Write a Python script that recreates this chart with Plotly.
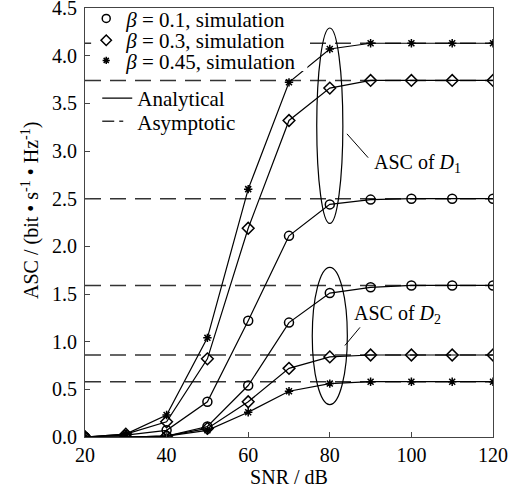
import plotly.graph_objects as go

snr = [20, 30, 40, 50, 60, 70, 80, 90, 100, 110, 120]

# ASC of D1
d1_b01 = [0.0, 0.02, 0.07, 0.37, 1.22, 2.11, 2.44, 2.49, 2.50, 2.50, 2.50]
d1_b03 = [0.0, 0.03, 0.16, 0.82, 2.19, 3.32, 3.66, 3.74, 3.74, 3.74, 3.74]
d1_b045 = [0.0, 0.03, 0.23, 1.04, 2.60, 3.72, 4.07, 4.13, 4.13, 4.13, 4.13]
# ASC of D2
d2_b01 = [0.0, 0.0, 0.01, 0.11, 0.54, 1.20, 1.51, 1.57, 1.59, 1.59, 1.59]
d2_b03 = [0.0, 0.0, 0.01, 0.09, 0.37, 0.72, 0.84, 0.86, 0.86, 0.86, 0.86]
d2_b045 = [0.0, 0.0, 0.01, 0.07, 0.26, 0.48, 0.56, 0.58, 0.58, 0.58, 0.58]

asymptotes = [4.13, 3.74, 2.50, 1.59, 0.86, 0.58]

beta_labels = ["0.1", "0.3", "0.45"]
symbols = ["circle-open", "diamond-open", "asterisk-open"]

FONT = "Liberation Serif"
fig = go.Figure()

# asymptotic dashed lines
for a in asymptotes:
    fig.add_trace(go.Scatter(x=[snr[0], snr[-1]], y=[a, a], mode="lines",
                             line=dict(color="#333", width=1.5, dash="16px,9px"),
                             showlegend=False, hoverinfo="skip"))

series = [(d1_b01, 0), (d1_b03, 1), (d1_b045, 2), (d2_b01, 0), (d2_b03, 1), (d2_b045, 2)]
for ys, k in series:
    sym = symbols[k]
    size = 9 if k < 2 else 7
    fig.add_trace(go.Scatter(x=snr, y=ys, mode="lines+markers",
                             line=dict(color="black", width=1.2),
                             marker=dict(symbol=sym, size=size, color="black",
                                         line=dict(color="black", width=1.5)),
                             showlegend=False))

# legend entries, one legend per row so rows can be placed exactly
legend_names = ["legend", "legend2", "legend3", "legend4", "legend5"]
for k in range(3):
    fig.add_trace(go.Scatter(x=[None], y=[None], mode="markers",
                             marker=dict(symbol=symbols[k], size=8 if k < 2 else 6, color="black",
                                         line=dict(color="black", width=1.5)),
                             name=f"<i>β</i> = {beta_labels[k]}, simulation",
                             legend=legend_names[k]))
fig.add_trace(go.Scatter(x=[None], y=[None], mode="lines",
                         line=dict(color="black", width=1.2), name="Analytical",
                         legend="legend4"))
fig.add_trace(go.Scatter(x=[None], y=[None], mode="lines",
                         line=dict(color="#333", width=1.5, dash="12px,5px,4px"), name="Asymptotic",
                         legend="legend5"))

# white backing behind the simulation legend rows
fig.add_shape(type="rect", xref="paper", yref="paper", x0=0.015, x1=0.545, y0=0.853, y1=0.996,
              fillcolor="white", line=dict(width=0), layer="above")

# ellipses around the 80 dB points
d1_at80 = [s[snr.index(80)] for s in (d1_b01, d1_b03, d1_b045)]
d2_at80 = [s[snr.index(80)] for s in (d2_b01, d2_b03, d2_b045)]
fig.add_shape(type="circle", xref="x", yref="y", x0=80 - 3.2, x1=80 + 3.2,
              y0=min(d1_at80) - 0.2, y1=max(d1_at80) + 0.22, line=dict(color="black", width=1.2))
fig.add_shape(type="circle", xref="x", yref="y", x0=80 - 4.3, x1=80 + 4.3,
              y0=min(d2_at80) - 0.22, y1=max(d2_at80) + 0.27, line=dict(color="black", width=1.2))

fig.add_shape(type="line", xref="x", yref="y", x0=84.2, y0=3.18, x1=89.4, y1=2.93,
              line=dict(color="black", width=1))
fig.add_shape(type="line", xref="x", yref="y", x0=87.4, y0=1.15, x1=83.7, y1=0.96,
              line=dict(color="black", width=1))
fig.add_annotation(x=101.6, y=2.87, xref="x", yref="y", showarrow=False,
                   text="ASC of <i>D</i><sub>1</sub>", font=dict(family=FONT, size=20, color="black"))
fig.add_annotation(x=96.7, y=1.29, xref="x", yref="y", showarrow=False,
                   text="ASC of <i>D</i><sub>2</sub>", font=dict(family=FONT, size=20, color="black"))
# y-axis title
fig.add_annotation(x=-0.135, y=0.529, xref="paper", yref="paper", showarrow=False,
                   textangle=-90, xanchor="center", yanchor="middle",
                   text="ASC / (bit • s<sup>-1</sup> • Hz<sup>-1</sup>)",
                   font=dict(family=FONT, size=20, color="black"))

axis_common = dict(showgrid=False, zeroline=False, showline=True, linecolor="#444", linewidth=1.2,
                   mirror=True, ticks="inside", ticklen=5, tickcolor="#444", automargin=False,
                   ticklabeloverflow="allow",
                   tickfont=dict(family=FONT, size=20, color="black"))

row_y = [0.975, 0.924, 0.877, 0.789, 0.735]
row_x = [0.003, 0.003, 0.003, 0.03, 0.03]
legends = {}
for i, name in enumerate(legend_names):
    legends[name] = dict(x=row_x[i], y=row_y[i], xanchor="left", yanchor="middle",
                         bgcolor="rgba(0,0,0,0)", borderwidth=0,
                         font=dict(family=FONT, size=21), itemwidth=30)

fig.update_layout(
    width=513, height=494,
    margin=dict(l=85, r=20, t=8, b=57, autoexpand=False),
    paper_bgcolor="white", plot_bgcolor="white",
    font=dict(family=FONT, size=20, color="black"),
    xaxis=dict(range=[20, 120], tickvals=[20, 40, 60, 80, 100, 120],
               title=dict(text="SNR / dB", font=dict(family=FONT, size=20), standoff=2),
               **axis_common),
    yaxis=dict(range=[0, 4.5], tickvals=[0, 0.5, 1, 1.5, 2, 2.5, 3, 3.5, 4, 4.5],
               tickformat=".1f", ticklabelstandoff=3,
               **axis_common),
    **legends,
)

fig.write_html("out.html", config={"displayModeBar": False},
               post_script="document.body.style.margin='0px';")
